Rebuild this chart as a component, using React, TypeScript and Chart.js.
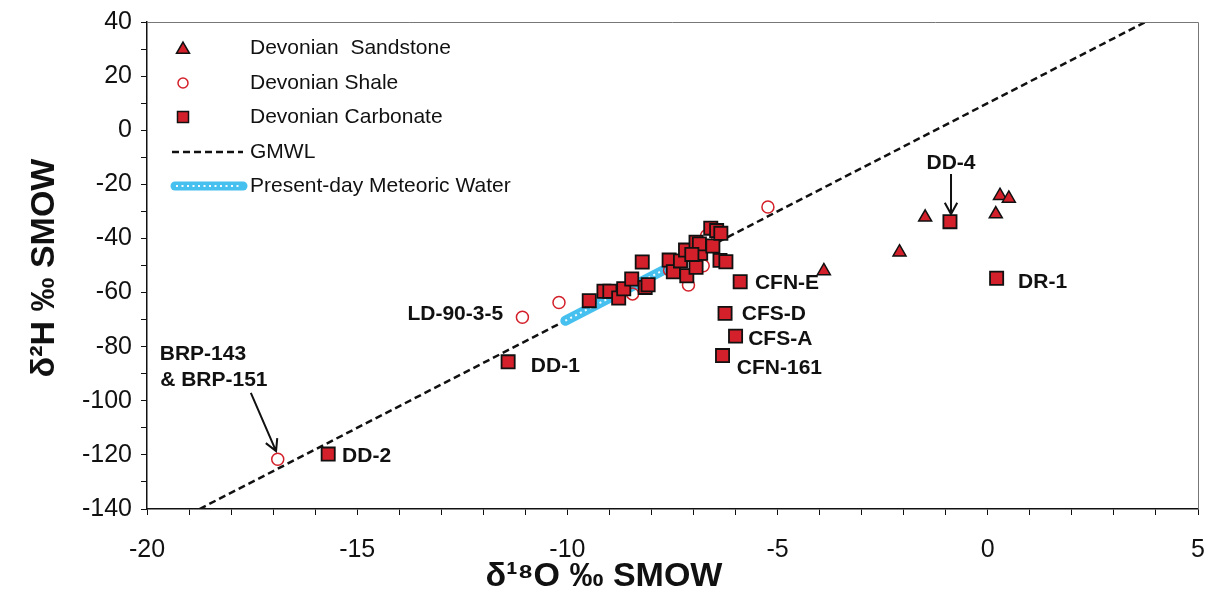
import React, { useEffect, useRef } from 'react';
import { Chart, registerables } from 'chart.js';

Chart.register(...registerables);

// ---- data ----
const sandstoneX = [-1.49, 0.29, 0.5, 0.19, -2.1, -3.9];
const sandstoneY = [-32.2, -24.2, -25.2, -31.0, -45.1, -52.0];

const shaleX = [-16.89, -11.07, -10.2, -8.45, -7.57, -7.12, -6.77, -6.69, -5.23];
const shaleY = [-121.6, -69.1, -63.7, -60.5, -51.7, -57.2, -50.1, -39.0, -28.4];

const carbonateX = [
  -9.48, -9.13, -8.99, -8.78, -8.66, -8.47, -8.15, -8.08, -8.22, -7.58, -7.48, -7.31,
  -7.19, -7.16, -6.94, -6.83, -6.94, -6.86, -7.04, -6.54, -6.59, -6.45, -6.35, -6.37, -6.23,
  -5.89, -6.25, -6.0, -6.31, -0.9, 0.21, -11.41, -15.69,
];
const carbonateY = [
  -63.0, -59.5, -59.5, -62.0, -58.6, -55.0, -58.1, -57.1, -48.7, -48.0, -52.3, -48.3,
  -44.3, -53.8, -50.7, -45.5, -41.4, -42.0, -45.9, -42.8, -36.2, -37.1, -38.1, -48.1, -48.6,
  -56.0, -67.7, -76.1, -83.3, -33.8, -54.7, -85.6, -119.7,
];

const gmwlX = [-18.75, 3.75];
const gmwlY = [-140, 40];

const meteoricX = [-10.05, -7.7];
const meteoricY = [-70.4, -51.6];

const xTickLabels = [-20, -15, -10, -5, 0, 5];
const yTickLabels = [40, 20, 0, -20, -40, -60, -80, -100, -120, -140];

const legendLabels = [
  'Devonian  Sandstone',
  'Devonian Shale',
  'Devonian Carbonate',
  'GMWL',
  'Present-day Meteoric Water',
];

const annotations = [
  { text: 'DD-4', x: -0.875, y: -12.1, align: 'center' },
  { text: 'DR-1', x: 0.72, y: -56.1, align: 'left' },
  { text: 'CFN-E', x: -5.54, y: -56.5, align: 'left' },
  { text: 'CFS-D', x: -5.85, y: -67.9, align: 'left' },
  { text: 'CFS-A', x: -5.7, y: -77.2, align: 'left' },
  { text: 'CFN-161', x: -5.97, y: -87.9, align: 'left' },
  { text: 'LD-90-3-5', x: -11.53, y: -67.9, align: 'right' },
  { text: 'DD-1', x: -10.87, y: -87.1, align: 'left' },
  { text: 'BRP-143', x: -18.67, y: -82.7, align: 'center' },
  { text: '& BRP-151', x: -18.41, y: -92.3, align: 'center' },
  { text: 'DD-2', x: -15.36, y: -120.4, align: 'left' },
];

const arrows = [
  { x1: -0.875, y1: -16.2, x2: -0.875, y2: -31.0 },
  { x1: -17.53, y1: -97.1, x2: -16.93, y2: -118.6 },
];

const toPts = (xs: number[], ys: number[]) => xs.map((x, i) => ({ x, y: ys[i] }));

const FONT = "'Liberation Sans', Arial, Helvetica, sans-serif";
const RED = '#d3202a';
const BLUE = '#46c0ee';

function drawTriangle(ctx: CanvasRenderingContext2D, x: number, y: number, r: number) {
  ctx.beginPath();
  ctx.moveTo(x, y - r);
  ctx.lineTo(x + r * Math.sin(Math.PI / 3), y + r / 2);
  ctx.lineTo(x - r * Math.sin(Math.PI / 3), y + r / 2);
  ctx.closePath();
}

const overlayPlugin = {
  id: 'overlay',
  afterDatasetsDraw(chart: any) {
    const ctx: CanvasRenderingContext2D = chart.ctx;
    const xs = chart.scales.x;
    const ys = chart.scales.y;
    const area = chart.chartArea;
    ctx.save();

    // top & right frame
    ctx.strokeStyle = '#777';
    ctx.lineWidth = 1;
    ctx.beginPath();
    ctx.moveTo(area.left, area.top + 0.5);
    ctx.lineTo(area.right + 0.5, area.top + 0.5);
    ctx.lineTo(area.right + 0.5, area.bottom);
    ctx.stroke();

    // annotations
    ctx.fillStyle = '#111';
    ctx.font = `bold 21px ${FONT}`;
    ctx.textBaseline = 'middle';
    annotations.forEach((a) => {
      ctx.textAlign = a.align as CanvasTextAlign;
      ctx.fillText(a.text, xs.getPixelForValue(a.x), ys.getPixelForValue(a.y));
    });

    // arrows
    ctx.strokeStyle = '#111';
    ctx.lineWidth = 2;
    arrows.forEach((a) => {
      const x1 = xs.getPixelForValue(a.x1);
      const y1 = ys.getPixelForValue(a.y1);
      const x2 = xs.getPixelForValue(a.x2);
      const y2 = ys.getPixelForValue(a.y2);
      const ang = Math.atan2(y2 - y1, x2 - x1);
      const hl = 13;
      const spread = 0.5;
      ctx.beginPath();
      ctx.moveTo(x1, y1);
      ctx.lineTo(x2, y2);
      ctx.moveTo(x2 - hl * Math.cos(ang - spread), y2 - hl * Math.sin(ang - spread));
      ctx.lineTo(x2, y2);
      ctx.lineTo(x2 - hl * Math.cos(ang + spread), y2 - hl * Math.sin(ang + spread));
      ctx.stroke();
    });

    // legend
    const mx = area.left + 36;
    const lineL = area.left + 25;
    const lineR = area.left + 96;
    const tx = area.left + 103;
    const rows = [26, 61, 95, 130, 164].map((d) => area.top + d);
    legendLabels.forEach((label, i) => {
      const y = rows[i];
      ctx.save();
      if (i === 0) {
        drawTriangle(ctx, mx, y + 1.5, 7.5);
        ctx.fillStyle = RED;
        ctx.fill();
        ctx.strokeStyle = '#111';
        ctx.lineWidth = 1.5;
        ctx.stroke();
      } else if (i === 1) {
        ctx.beginPath();
        ctx.arc(mx, y, 5, 0, Math.PI * 2);
        ctx.strokeStyle = RED;
        ctx.lineWidth = 1.5;
        ctx.stroke();
      } else if (i === 2) {
        ctx.beginPath();
        ctx.rect(mx - 5.5, y - 5.5, 11, 11);
        ctx.fillStyle = RED;
        ctx.fill();
        ctx.strokeStyle = '#111';
        ctx.lineWidth = 1.5;
        ctx.stroke();
      } else if (i === 3) {
        ctx.beginPath();
        ctx.setLineDash([7, 4]);
        ctx.moveTo(lineL, y);
        ctx.lineTo(lineR, y);
        ctx.strokeStyle = '#111';
        ctx.lineWidth = 2.5;
        ctx.stroke();
      } else {
        ctx.lineCap = 'round';
        ctx.beginPath();
        ctx.moveTo(lineL + 3, y);
        ctx.lineTo(lineR, y);
        ctx.strokeStyle = BLUE;
        ctx.lineWidth = 9;
        ctx.stroke();
        ctx.setLineDash([2, 3.5]);
        ctx.lineCap = 'butt';
        ctx.strokeStyle = 'rgba(255,255,255,0.95)';
        ctx.lineWidth = 2;
        ctx.beginPath();
        ctx.moveTo(lineL + 4, y);
        ctx.lineTo(lineR - 2, y);
        ctx.stroke();
      }
      ctx.restore();
      ctx.fillStyle = '#111';
      ctx.font = `21px ${FONT}`;
      ctx.textAlign = 'left';
      ctx.textBaseline = 'middle';
      ctx.fillText(label, tx, y);
    });

    // axis titles
    ctx.fillStyle = '#111';
    ctx.font = `bold 34px ${FONT}`;
    ctx.textAlign = 'center';
    ctx.textBaseline = 'middle';
    ctx.fillText('δ¹⁸O ‰ SMOW', 604, 577);
    ctx.save();
    ctx.translate(45, 268);
    ctx.rotate(-Math.PI / 2);
    ctx.fillText('δ²H ‰ SMOW', 0, 0);
    ctx.restore();

    ctx.restore();
  },
};

export default function App() {
  const ref = useRef<HTMLCanvasElement | null>(null);

  useEffect(() => {
    document.body.style.margin = '0';
    const canvas = ref.current;
    if (!canvas) return;
    const chart = new Chart(canvas, {
      type: 'scatter',
      data: {
        datasets: [
          {
            label: legendLabels[0],
            data: toPts(sandstoneX, sandstoneY),
            pointStyle: 'triangle',
            pointRadius: 7.5,
            backgroundColor: RED,
            borderColor: '#111',
            borderWidth: 1.5,
          },
          {
            label: legendLabels[2],
            data: toPts(carbonateX, carbonateY),
            pointStyle: 'rect',
            pointRadius: 9.3,
            backgroundColor: RED,
            borderColor: '#111',
            borderWidth: 1.8,
          },
          {
            label: legendLabels[1],
            data: toPts(shaleX, shaleY),
            pointStyle: 'circle',
            pointRadius: 6,
            backgroundColor: 'rgba(255,255,255,0)',
            borderColor: RED,
            borderWidth: 1.5,
          },
          {
            label: 'mw-dots',
            data: toPts(meteoricX, meteoricY),
            showLine: true,
            pointRadius: 0,
            borderColor: 'rgba(255,255,255,0.95)',
            borderWidth: 2,
            borderDash: [2, 3.5],
          },
          {
            label: legendLabels[4],
            data: toPts(meteoricX, meteoricY),
            showLine: true,
            pointRadius: 0,
            borderColor: BLUE,
            borderWidth: 10,
            borderCapStyle: 'round',
          },
          {
            label: legendLabels[3],
            data: toPts(gmwlX, gmwlY),
            showLine: true,
            pointRadius: 0,
            borderColor: '#111',
            borderWidth: 2.5,
            borderDash: [7, 4],
          },
        ],
      },
      options: {
        responsive: false,
        animation: false,
        layout: { padding: { left: 0, top: 22, right: 13, bottom: 0 } },
        plugins: { legend: { display: false }, tooltip: { enabled: false } },
        scales: {
          x: {
            type: 'linear',
            min: -20,
            max: 5,
            afterFit: (s: any) => {
              s.height = 85;
              s.paddingLeft = 0;
              s.paddingRight = 0;
            },
            afterBuildTicks: (s: any) => {
              const t = [];
              for (let v = -20; v <= 5; v += 1) t.push({ value: v });
              s.ticks = t;
            },
            ticks: {
              autoSkip: false,
              maxRotation: 0,
              padding: 20,
              color: '#111',
              font: { family: FONT, size: 25 },
              callback: (v: any) => (xTickLabels.includes(Number(v)) ? String(v) : ''),
            },
            grid: {
              drawOnChartArea: false,
              drawTicks: true,
              tickLength: 6,
              tickColor: '#111',
              tickWidth: 1,
            },
            border: { display: true, color: '#111', width: 1.5 },
          },
          y: {
            type: 'linear',
            min: -140,
            max: 40,
            afterFit: (s: any) => {
              s.width = 147;
              s.paddingTop = 0;
              s.paddingBottom = 0;
            },
            afterBuildTicks: (s: any) => {
              const t = [];
              for (let v = -140; v <= 40; v += 10) t.push({ value: v });
              s.ticks = t;
            },
            ticks: {
              autoSkip: false,
              padding: 9,
              color: '#111',
              font: { family: FONT, size: 25 },
              callback: (v: any) => (yTickLabels.includes(Number(v)) ? String(v) : ''),
            },
            grid: {
              drawOnChartArea: false,
              drawTicks: true,
              tickLength: 6,
              tickColor: '#111',
              tickWidth: 1,
            },
            border: { display: true, color: '#111', width: 1.5 },
          },
        },
      },
      plugins: [overlayPlugin],
    });
    return () => chart.destroy();
  }, []);

  return (
    <div style={{ width: 1211, height: 594, position: 'relative', background: '#fff' }}>
      <canvas ref={ref} width={1211} height={594} />
    </div>
  );
}
